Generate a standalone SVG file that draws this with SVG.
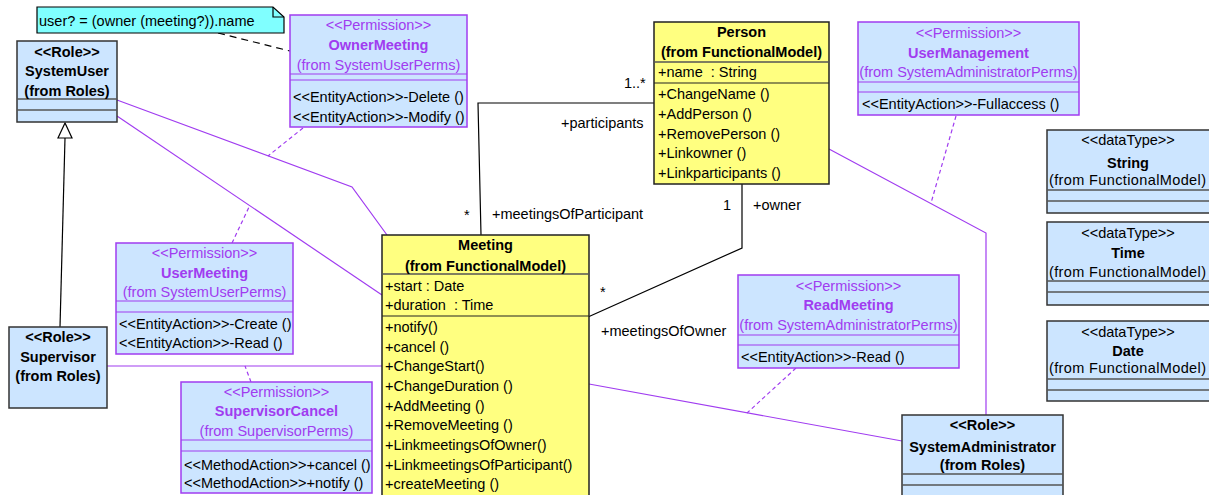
<svg xmlns="http://www.w3.org/2000/svg" width="1209" height="495" viewBox="0 0 1209 495">
<style>
text{font-family:"Liberation Sans",Arial,sans-serif;font-size:14.5px;fill:#000}
.b{font-weight:bold}
.p{fill:#A03CF0}
.c{text-anchor:middle}
.blue{fill:#CCE5FF}
.role{stroke:#333;stroke-width:1.5}
.perm{stroke:#A03CF0;stroke-width:1.5}
.yel{fill:#FFFF80;stroke:#222;stroke-width:1.5}
.sepg{stroke:#555;stroke-width:1.3}
.sepp{stroke:#A03CF0;stroke-width:1.2}
.sepk{stroke:#222;stroke-width:1.2}
.con{fill:none;stroke:#000;stroke-width:1.2}
.pcon{fill:none;stroke:#A03CF0;stroke-width:1.2}
.pdash{fill:none;stroke:#A03CF0;stroke-width:1.2;stroke-dasharray:4,3}
.kdash{fill:none;stroke:#000;stroke-width:1.2;stroke-dasharray:7,5}
</style>

<g id="connectors">
  <line class="kdash" x1="218" y1="33" x2="290" y2="51"/>
  <line class="con" x1="65" y1="138" x2="60" y2="327"/>
  <polygon points="65,123 58,138 72,138" fill="#fff" stroke="#000" stroke-width="1.2"/>
  <polyline class="con" points="654,103 478,103 481,235"/>
  <polyline class="con" points="742,184 742,248 588,317"/>
  <polyline class="pcon" points="117,100 352,187 387,235"/>
  <line class="pcon" x1="117" y1="116" x2="382" y2="295"/>
  <line class="pcon" x1="107" y1="366" x2="382" y2="366"/>
  <line class="pcon" x1="589" y1="384" x2="902" y2="441"/>
  <polyline class="pcon" points="829,149 986,233 986,415"/>
  <line class="pdash" x1="303" y1="128" x2="268" y2="156"/>
  <line class="pdash" x1="232" y1="243" x2="250" y2="205"/>
  <line class="pdash" x1="251" y1="382" x2="245" y2="366"/>
  <line class="pdash" x1="796" y1="368" x2="747" y2="413"/>
  <line class="pdash" x1="956" y1="116" x2="931" y2="203"/>
  <text x="624" y="88">1..*</text>
  <text x="561" y="128">+participants</text>
  <text x="464" y="220">*</text>
  <text x="492" y="219">+meetingsOfParticipant</text>
  <text x="723" y="210">1</text>
  <text x="753" y="210">+owner</text>
  <text x="600" y="297">*</text>
  <text x="601" y="336">+meetingsOfOwner</text>
</g>

<g id="note">
  <path d="M37,7 L273,7 L284,17 L284,33 L37,33 Z" fill="#80FFFF" stroke="#000" stroke-width="1.2"/>
  <path d="M273,7 L273,17 L284,17" fill="none" stroke="#000" stroke-width="1.2"/>
  <text x="39" y="26">user? = (owner (meeting?)).name</text>
</g>

<g id="SystemUser">
  <rect class="blue role" x="17" y="41" width="100" height="81"/>
  <line class="sepg" x1="17" y1="99" x2="117" y2="99"/>
  <line class="sepg" x1="17" y1="110" x2="117" y2="110"/>
  <text class="b c" x="67" y="57">&lt;&lt;Role&gt;&gt;</text>
  <text class="b c" x="67" y="76">SystemUser</text>
  <text class="b c" x="67" y="96">(from Roles)</text>
</g>

<g id="Supervisor">
  <rect class="blue role" x="9" y="327" width="98" height="81"/>
  <text class="b c" x="58" y="342">&lt;&lt;Role&gt;&gt;</text>
  <text class="b c" x="58" y="362">Supervisor</text>
  <text class="b c" x="58" y="381">(from Roles)</text>
</g>

<g id="OwnerMeeting">
  <rect class="blue perm" x="290" y="15" width="177" height="112"/>
  <line class="sepp" x1="290" y1="74" x2="467" y2="74"/>
  <line class="sepp" x1="290" y1="80" x2="467" y2="80"/>
  <text class="p c" x="378.5" y="30">&lt;&lt;Permission&gt;&gt;</text>
  <text class="p b c" x="378.5" y="50">OwnerMeeting</text>
  <text class="p c" x="378.5" y="70">(from SystemUserPerms)</text>
  <text x="293" y="102">&lt;&lt;EntityAction&gt;&gt;-Delete ()</text>
  <text x="293" y="122">&lt;&lt;EntityAction&gt;&gt;-Modify ()</text>
</g>

<g id="UserMeeting">
  <rect class="blue perm" x="116" y="243" width="177" height="111"/>
  <line class="sepp" x1="116" y1="301" x2="293" y2="301"/>
  <line class="sepp" x1="116" y1="312" x2="293" y2="312"/>
  <text class="p c" x="204.5" y="258">&lt;&lt;Permission&gt;&gt;</text>
  <text class="p b c" x="204.5" y="278">UserMeeting</text>
  <text class="p c" x="204.5" y="297">(from SystemUserPerms)</text>
  <text x="119" y="329">&lt;&lt;EntityAction&gt;&gt;-Create ()</text>
  <text x="119" y="348">&lt;&lt;EntityAction&gt;&gt;-Read ()</text>
</g>

<g id="SupervisorCancel">
  <rect class="blue perm" x="181" y="382" width="191" height="111"/>
  <line class="sepp" x1="181" y1="440" x2="372" y2="440"/>
  <line class="sepp" x1="181" y1="451" x2="372" y2="451"/>
  <text class="p c" x="276.5" y="397">&lt;&lt;Permission&gt;&gt;</text>
  <text class="p b c" x="276.5" y="416">SupervisorCancel</text>
  <text class="p c" x="276.5" y="436">(from SupervisorPerms)</text>
  <text x="184" y="470">&lt;&lt;MethodAction&gt;&gt;+cancel ()</text>
  <text x="184" y="488">&lt;&lt;MethodAction&gt;&gt;+notify ()</text>
</g>

<g id="Person">
  <rect class="yel" x="654" y="22" width="175" height="162"/>
  <line class="sepg" x1="654" y1="62" x2="829" y2="62"/>
  <line class="sepk" x1="654" y1="83" x2="829" y2="83"/>
  <text class="b c" x="741.5" y="37">Person</text>
  <text class="b c" x="741.5" y="57">(from FunctionalModel)</text>
  <text x="658" y="77" xml:space="preserve">+name  : String</text>
  <text x="658" y="99">+ChangeName ()</text>
  <text x="658" y="119">+AddPerson ()</text>
  <text x="658" y="139">+RemovePerson ()</text>
  <text x="658" y="158">+Linkowner ()</text>
  <text x="658" y="178">+Linkparticipants ()</text>
</g>

<g id="Meeting">
  <rect class="yel" x="382" y="235" width="207" height="270"/>
  <line class="sepg" x1="382" y1="274" x2="589" y2="274"/>
  <line class="sepk" x1="382" y1="316" x2="589" y2="316"/>
  <text class="b c" x="485.5" y="250">Meeting</text>
  <text class="b c" x="485.5" y="271">(from FunctionalModel)</text>
  <text x="385" y="291">+start : Date</text>
  <text x="385" y="310" xml:space="preserve">+duration  : Time</text>
  <text x="385" y="332">+notify()</text>
  <text x="385" y="352">+cancel ()</text>
  <text x="385" y="371">+ChangeStart()</text>
  <text x="385" y="391">+ChangeDuration ()</text>
  <text x="385" y="411">+AddMeeting ()</text>
  <text x="385" y="430">+RemoveMeeting ()</text>
  <text x="385" y="450">+LinkmeetingsOfOwner()</text>
  <text x="385" y="470">+LinkmeetingsOfParticipant()</text>
  <text x="385" y="489">+createMeeting ()</text>
</g>

<g id="UserManagement">
  <rect class="blue perm" x="858" y="22" width="221" height="93"/>
  <line class="sepp" x1="858" y1="82" x2="1079" y2="82"/>
  <line class="sepp" x1="858" y1="92" x2="1079" y2="92"/>
  <text class="p c" x="968.5" y="38">&lt;&lt;Permission&gt;&gt;</text>
  <text class="p b c" x="968.5" y="58">UserManagement</text>
  <text class="p c" x="968.5" y="77">(from SystemAdministratorPerms)</text>
  <text x="862" y="109">&lt;&lt;EntityAction&gt;&gt;-Fullaccess ()</text>
</g>

<g id="ReadMeeting">
  <rect class="blue perm" x="738" y="275" width="221" height="93"/>
  <line class="sepp" x1="738" y1="335" x2="959" y2="335"/>
  <line class="sepp" x1="738" y1="345" x2="959" y2="345"/>
  <text class="p c" x="848.5" y="291">&lt;&lt;Permission&gt;&gt;</text>
  <text class="p b c" x="848.5" y="310">ReadMeeting</text>
  <text class="p c" x="848.5" y="330">(from SystemAdministratorPerms)</text>
  <text x="741" y="362">&lt;&lt;EntityAction&gt;&gt;-Read ()</text>
</g>

<g id="SystemAdministrator">
  <rect class="blue role" x="902" y="415" width="161" height="90"/>
  <line class="sepg" x1="902" y1="474" x2="1063" y2="474"/>
  <line class="sepg" x1="902" y1="485" x2="1063" y2="485"/>
  <text class="b c" x="982.5" y="430">&lt;&lt;Role&gt;&gt;</text>
  <text class="b c" x="982.5" y="452">SystemAdministrator</text>
  <text class="b c" x="982.5" y="470">(from Roles)</text>
</g>

<g id="String">
  <rect class="blue role" x="1047" y="130" width="170" height="83"/>
  <line class="sepg" x1="1047" y1="190" x2="1217" y2="190"/>
  <line class="sepg" x1="1047" y1="201" x2="1217" y2="201"/>
  <text class="c" x="1128" y="145">&lt;&lt;dataType&gt;&gt;</text>
  <text class="b c" x="1128" y="168">String</text>
  <text x="1049" y="185" textLength="157" lengthAdjust="spacing">(from FunctionalModel)</text>
</g>

<g id="Time">
  <rect class="blue role" x="1047" y="222" width="170" height="83"/>
  <line class="sepg" x1="1047" y1="281" x2="1217" y2="281"/>
  <line class="sepg" x1="1047" y1="292" x2="1217" y2="292"/>
  <text class="c" x="1128" y="238">&lt;&lt;dataType&gt;&gt;</text>
  <text class="b c" x="1128" y="258">Time</text>
  <text x="1049" y="277" textLength="157" lengthAdjust="spacing">(from FunctionalModel)</text>
</g>

<g id="Date">
  <rect class="blue role" x="1047" y="321" width="170" height="80"/>
  <line class="sepg" x1="1047" y1="379" x2="1217" y2="379"/>
  <line class="sepg" x1="1047" y1="390" x2="1217" y2="390"/>
  <text class="c" x="1128" y="337">&lt;&lt;dataType&gt;&gt;</text>
  <text class="b c" x="1128" y="356">Date</text>
  <text x="1049" y="373" textLength="157" lengthAdjust="spacing">(from FunctionalModel)</text>
</g>
</svg>
